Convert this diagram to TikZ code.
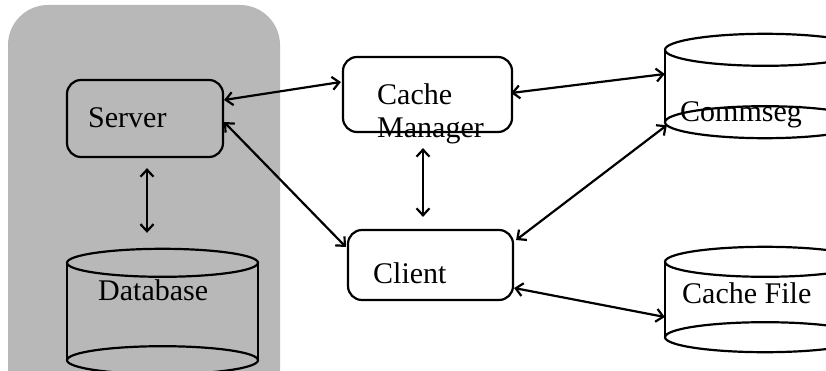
\documentclass[tikz,border=0pt]{standalone}
\usepackage{fontspec}
\setmainfont{Liberation Serif}
\usetikzlibrary{arrows.meta}
\begin{document}
\begin{tikzpicture}[x=1pt, y=1pt]
  \tikzstyle{box}=[rectangle, rounded corners=14pt, draw, line width=2.2pt, inner sep=0pt]
  \tikzstyle{cyl}=[rectangle, draw=none, inner sep=0pt]
  \tikzstyle{lbl}=[inner sep=0pt, font=\fontsize{30}{32}\selectfont, align=left]
  \tikzstyle{link}=[line width=2.2pt, {Straight Barb[length=7pt,width=13pt,line width=2.2pt]}-{Straight Barb[length=7pt,width=13pt,line width=2.2pt]}]

  \useasboundingbox (0,0) rectangle (826,370);
  \clip (0,0) rectangle (826,370);

  % server side
  \fill[black!28, rounded corners=40pt] (8,-40) rectangle (280,365);

  \node[box] (server) at (145,   251.5) [minimum width=156pt, minimum height=77pt] {};
  \node[box] (cm)     at (427.5, 275.5) [minimum width=169pt, minimum height=75pt] {};
  \node[box] (client) at (430.5, 105)   [minimum width=165pt, minimum height=70pt] {};

  \node[cyl] (db)        at (162.5, 58.5) [minimum width=191pt, minimum height=97pt] {};
  \node[cyl] (commseg)   at (765,   284)  [minimum width=200pt, minimum height=72pt] {};
  \node[cyl] (cachefile) at (765,   70.5) [minimum width=200pt, minimum height=75pt] {};

  \foreach \c/\rx/\ry in {db/95.5/14, commseg/100/16, cachefile/100/15} {
    \draw[line width=2.2pt] (\c.north west) -- (\c.south west);
    \draw[line width=2.2pt] (\c.north east) -- (\c.south east);
    \draw[line width=2.2pt] (\c.north) ellipse ({\rx pt} and {\ry pt});
    \draw[line width=2.2pt] (\c.south) ellipse ({\rx pt} and {\ry pt});
  }

  \node[lbl, anchor=base west] (servertxt)    at (88,  242) {Server};
  \node[lbl, anchor=base west] (cmtxt)        at (377, 233) {Cache\\Manager};
  \node[lbl, anchor=base west] (clienttxt)    at (373, 87)  {Client};
  \node[lbl, anchor=base west] (dbtxt)        at (98,  70)  {Database};
  \node[lbl, anchor=base west] (commsegtxt)   at (680, 248) {Commseg};
  \node[lbl, anchor=base west] (cachefiletxt) at (682, 67)  {Cache File};

  \path ([yshift=18.5pt]server.east) edge[link] ([xshift=-1pt, yshift=12.5pt]cm.west);
  \path ([yshift=-3.5pt]server.east) edge[link] ([xshift=-1pt, yshift=18pt]client.west);
  \path ([xshift=-2pt, yshift=1.5pt]cm.east) edge[link] ([yshift=12pt]commseg.west);
  \path ([xshift=2pt, yshift=25pt]client.east) edge[link] ([xshift=2pt, yshift=-3pt]commseg.south west);
  \path ([yshift=-23pt]client.east) edge[link] ([yshift=-17.5pt]cachefile.west);
  \path ([xshift=2pt]server.south) edge[link, shorten <=10pt, shorten >=30pt] ([xshift=2pt]server.south |- db.north);
  \path ([xshift=-4.5pt]cm.south) edge[link, shorten <=15pt, shorten >=12pt] ([xshift=-4.5pt]cm.south |- client.north);
\end{tikzpicture}
\end{document}
